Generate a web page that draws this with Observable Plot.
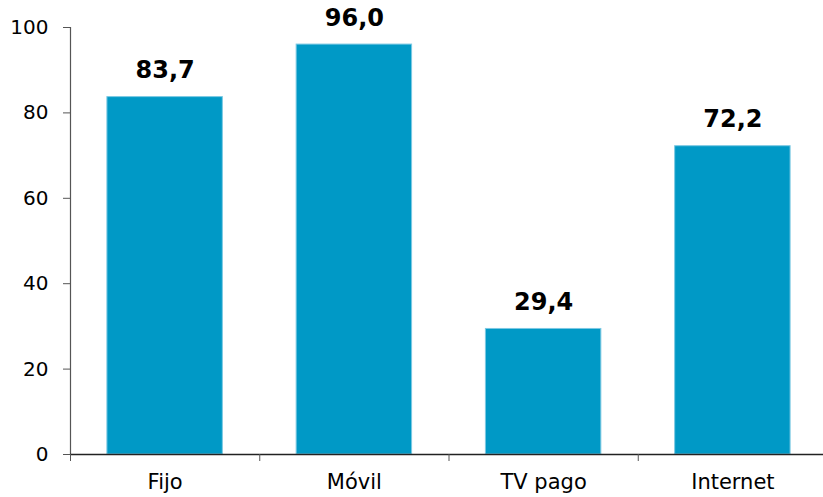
<!DOCTYPE html>
<html>
<head>
<meta charset="utf-8">
<script src="https://cdn.jsdelivr.net/npm/d3@7"></script>
<script src="https://cdn.jsdelivr.net/npm/@observablehq/plot@0.6"></script>
<style>
  html, body { margin: 0; padding: 0; background: #fff; }
  svg { overflow: visible; }
</style>
</head>
<body>
<div id="chart"></div>
<script>
const categories = ["Fijo", "Móvil", "TV pago", "Internet"];
const values = [83.7, 96.0, 29.4, 72.2];
const yTicks = [0, 20, 40, 60, 80, 100];

const data = categories.map((c, i) => ({i, category: c, value: values[i]}));
const fmt = v => v.toFixed(1).replace(".", ",");
const font = "DejaVu Sans, Verdana, sans-serif";

const chart = Plot.plot({
  width: 823,
  height: 497,
  marginLeft: 70,
  marginRight: -4,
  marginTop: 27,
  marginBottom: 43,
  style: {fontFamily: font, fontSize: "20px", color: "#000", background: "#fff"},
  x: {domain: [0, categories.length]},
  y: {domain: [0, 100]},
  marks: [
    Plot.rectY(data, {
      x1: d => d.i + 0.195,
      x2: d => d.i + 0.805,
      y: "value",
      fill: "#0099c6",
      stroke: "#7cc9e3",
      strokeWidth: 1
    }),
    Plot.ruleX([0], {y1: 0, y2: 100, stroke: "#555", strokeWidth: 1.2}),
    Plot.ruleY([0], {stroke: "#222", strokeWidth: 1.3}),
    Plot.axisY({ticks: yTicks, tickSize: 7, tickPadding: 15, label: null, stroke: "#555", fontSize: 20}),
    Plot.axisX({ticks: d3.range(categories.length + 1), tickSize: 7, tickFormat: () => "", label: null, stroke: "#555"}),
    Plot.text(data, {
      x: d => d.i + 0.5,
      y: 0,
      text: "category",
      dy: 28,
      fontSize: 21,
      fill: "#000"
    }),
    Plot.text(data, {
      x: d => d.i + 0.5,
      y: "value",
      text: d => fmt(d.value),
      dy: -26.5,
      fontSize: 24,
      fontWeight: "bold",
      fill: "#000"
    })
  ]
});
document.getElementById("chart").appendChild(chart);
</script>
</body>
</html>
